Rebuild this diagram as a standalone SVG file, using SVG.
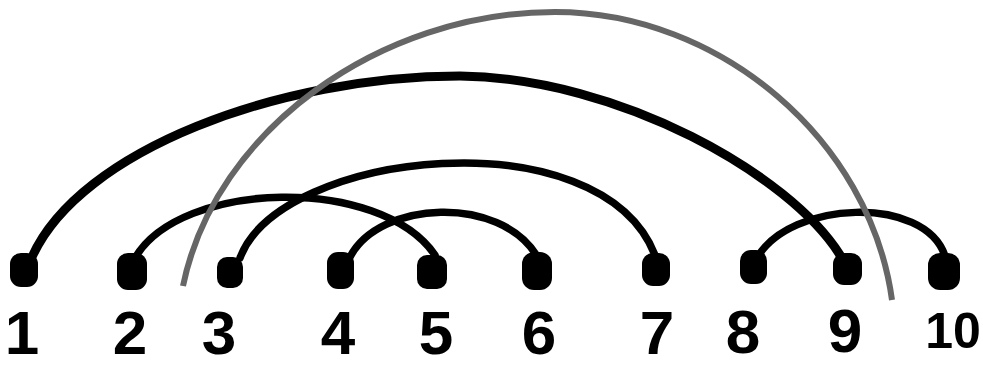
<svg xmlns="http://www.w3.org/2000/svg" width="983" height="368" viewBox="0 0 983 368">
<style>
.arc{fill:none;stroke:#000;stroke-width:7.5;stroke-linecap:round}
.thick{stroke-width:9}
.gray{fill:none;stroke:#666;stroke-width:6;stroke-linecap:butt}
.dot{fill:#000}
.lbl{font-family:"Liberation Sans",Arial,sans-serif;font-weight:bold;font-size:62px;fill:#000;text-anchor:middle}
</style>
<rect width="983" height="368" fill="#fff"/>
<g id="connectors">
<path class="arc thick" d="M32,257 C80,150 280,76 460,76 C620,78 790,175 840,255"/>
<path class="arc" d="M135,258 C180,180 380,175 435,255"/>
<path class="arc" d="M240,258 C280,150 600,115 655,255"/>
<path class="arc" d="M350,257 C380,200 500,195 537,256"/>
<path class="arc" d="M757,258 C790,200 925,195 945,256"/>
<path class="gray" d="M183,286 C215,130 380,12 555,12 C720,12 870,140 892,300"/>
</g>
<g id="n1"><rect class="dot" x="10" y="253" width="28" height="34" rx="11"/><text class="lbl" x="22" y="354">1</text></g>
<g id="n2"><rect class="dot" x="117" y="253" width="30" height="37" rx="11"/><text class="lbl" x="130" y="354">2</text></g>
<g id="n3"><rect class="dot" x="217" y="257" width="26" height="31" rx="10"/><text class="lbl" x="219" y="354">3</text></g>
<g id="n4"><rect class="dot" x="327" y="252" width="27" height="37" rx="11"/><text class="lbl" x="338" y="354">4</text></g>
<g id="n5"><rect class="dot" x="417" y="255" width="30" height="34" rx="10"/><text class="lbl" x="436" y="354">5</text></g>
<g id="n6"><rect class="dot" x="522" y="252" width="30" height="38" rx="12"/><text class="lbl" x="539" y="354">6</text></g>
<g id="n7"><rect class="dot" x="642" y="253" width="28" height="33" rx="11"/><text class="lbl" x="657" y="354">7</text></g>
<g id="n8"><rect class="dot" x="740" y="250" width="27" height="34" rx="11"/><text class="lbl" x="743" y="353">8</text></g>
<g id="n9"><rect class="dot" x="833" y="253" width="29" height="32" rx="11"/><text class="lbl" x="845" y="352">9</text></g>
<g id="n10"><rect class="dot" x="928" y="253" width="32" height="37" rx="12"/><text class="lbl" x="953" y="348" style="font-size:50px">10</text></g>
</svg>
